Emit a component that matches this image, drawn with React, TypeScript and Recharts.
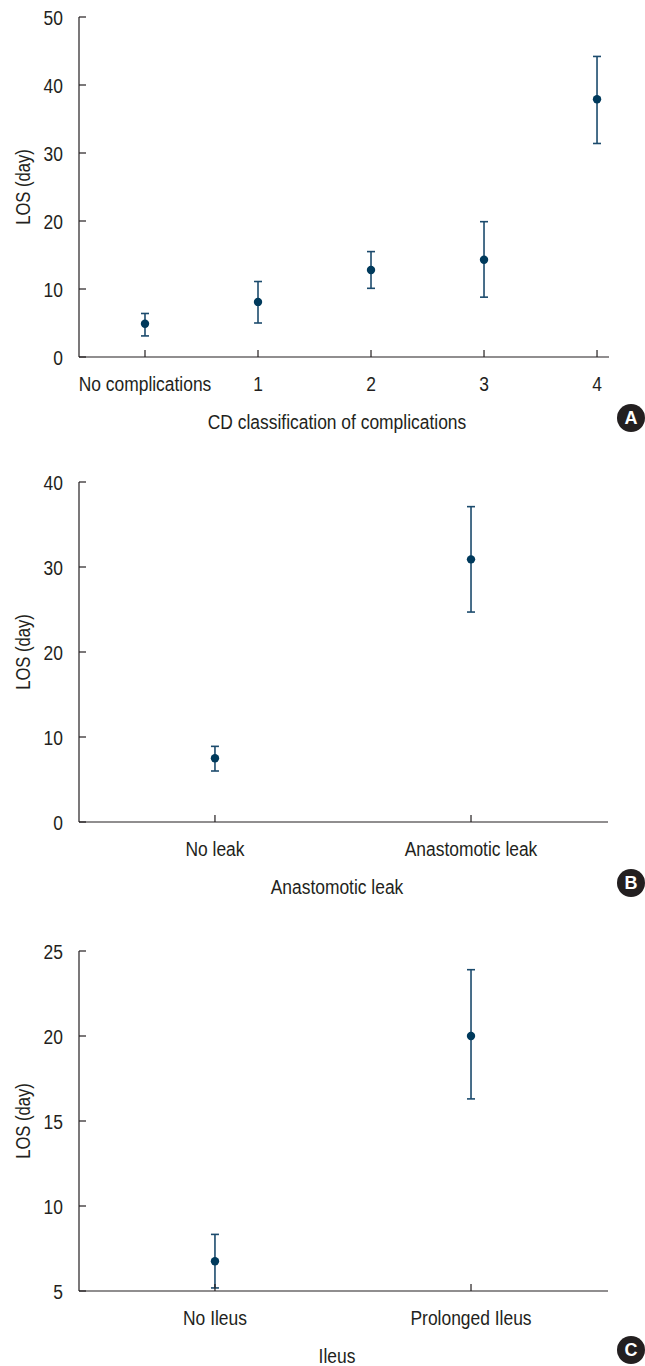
import React from 'react';
import { ScatterChart, Scatter, ErrorBar, XAxis, YAxis } from 'recharts';

// panel A
const cdLabels = ['No complications', '1', '2', '3', '4'];
const cdMean = [4.9, 8.1, 12.8, 14.3, 37.9];
const cdLow = [3.1, 5.0, 10.1, 8.8, 31.4];
const cdHigh = [6.4, 11.1, 15.5, 19.9, 44.2];
const cdTicks = [0, 10, 20, 30, 40, 50];

// panel B
const leakLabels = ['No leak', 'Anastomotic leak'];
const leakMean = [7.5, 30.9];
const leakLow = [6.0, 24.7];
const leakHigh = [8.9, 37.1];
const leakTicks = [0, 10, 20, 30, 40];

// panel C
const ileusLabels = ['No Ileus', 'Prolonged Ileus'];
const ileusMean = [6.75, 20.0];
const ileusLow = [5.18, 16.3];
const ileusHigh = [8.33, 23.9];
const ileusTicks = [5, 10, 15, 20, 25];

const INK = '#231f20';
const DOT = '#003a5c';
const BAR = '#1c4b6d';
const FONT = "'Liberation Sans', Arial, sans-serif";
const SQUEEZE = 0.83; // narrow the face to look like a condensed Helvetica

const toRows = (mean: number[], low: number[], high: number[]) =>
  mean.map((v, i) => ({ x: i, y: v, err: [v - low[i], high[i] - v] }));

const Dot = (props: any) => <circle cx={props.cx} cy={props.cy} r={4.2} fill={DOT} />;

const YTick = (props: any) => (
  <text
    transform={`translate(${props.x},${props.y}) scale(${SQUEEZE},1)`}
    dy="0.36em"
    textAnchor="end"
    fill={INK}
    fontSize={21}
  >
    {props.payload.value}
  </text>
);

type PanelProps = {
  top: number;
  height: number;
  margin: { top: number; right: number; bottom: number; left: number };
  labels: string[];
  rows: { x: number; y: number; err: number[] }[];
  xDomain: [number, number];
  yTicks: number[];
  title: string;
  letter: string;
  badgeTop: number;
};

const Panel = ({ top, height, margin, labels, rows, xDomain, yTicks, title, letter, badgeTop }: PanelProps) => {
  const XTick = (props: any) => (
    <text
      transform={`translate(${props.x},${props.y}) scale(${SQUEEZE},1)`}
      dy="0.71em"
      textAnchor="middle"
      fill={INK}
      fontSize={21}
    >
      {labels[props.payload.value]}
    </text>
  );
  const xTitle = (p: any) => {
    const vb = p.viewBox;
    return (
      <text
        transform={`translate(337,${vb.y + 64}) scale(${SQUEEZE},1)`}
        dy="0.36em"
        textAnchor="middle"
        fill={INK}
        fontSize={21}
      >
        {title}
      </text>
    );
  };
  const yTitle = (p: any) => {
    const vb = p.viewBox;
    const cy = vb.y + vb.height / 2;
    return (
      <text
        transform={`translate(23,${cy}) rotate(-90) scale(${SQUEEZE},1)`}
        dy="0.36em"
        textAnchor="middle"
        fill={INK}
        fontSize={20}
      >
        LOS (day)
      </text>
    );
  };
  return (
    <div style={{ position: 'absolute', left: 0, top, width: 645, height }}>
      <ScatterChart width={645} height={height} margin={margin}>
        <XAxis
          type="number"
          dataKey="x"
          domain={xDomain}
          allowDataOverflow
          ticks={labels.map((_, i) => i)}
          height={2}
          tickSize={-7}
          tickMargin={26}
          axisLine={{ stroke: INK, strokeWidth: 1.2 }}
          tickLine={{ stroke: INK, strokeWidth: 1.2 }}
          tick={<XTick />}
          interval={0}
          label={{ content: xTitle }}
        />
        <YAxis
          type="number"
          dataKey="y"
          domain={[yTicks[0], yTicks[yTicks.length - 1]]}
          allowDataOverflow
          ticks={yTicks}
          width={2}
          tickSize={-7}
          tickMargin={23}
          axisLine={{ stroke: INK, strokeWidth: 1.2 }}
          tickLine={{ stroke: INK, strokeWidth: 1.2 }}
          tick={<YTick />}
          interval={0}
          label={{ content: yTitle }}
        />
        <Scatter data={rows} shape={<Dot />} isAnimationActive={false}>
          <ErrorBar dataKey="err" direction="y" width={4} stroke={BAR} strokeWidth={1.6} isAnimationActive={false} />
        </Scatter>
      </ScatterChart>
      <div
        style={{
          position: 'absolute',
          left: 617,
          top: badgeTop - top - 14,
          width: 28,
          height: 28,
          borderRadius: '50%',
          background: INK,
          color: '#fff',
          fontFamily: FONT,
          fontWeight: 'bold',
          fontSize: 18,
          lineHeight: '28px',
          textAlign: 'center',
        }}
      >
        {letter}
      </div>
    </div>
  );
};

export default function App() {
  return (
    <div style={{ position: 'absolute', left: 0, top: 0, width: 645, height: 1366, background: '#fff', fontFamily: FONT, overflow: 'hidden' }}>
      <Panel
        top={0}
        height={440}
        margin={{ top: 17, right: 36, bottom: 81, left: 77 }}
        labels={cdLabels}
        rows={toRows(cdMean, cdLow, cdHigh)}
        xDomain={[-0.584, 4.106]}
        yTicks={cdTicks}
        title="CD classification of complications"
        letter="A"
        badgeTop={418}
      />
      <Panel
        top={440}
        height={460}
        margin={{ top: 42, right: 37, bottom: 76, left: 77 }}
        labels={leakLabels}
        rows={toRows(leakMean, leakLow, leakHigh)}
        xDomain={[-0.531, 1.535]}
        yTicks={leakTicks}
        title="Anastomotic leak"
        letter="B"
        badgeTop={883}
      />
      <Panel
        top={900}
        height={466}
        margin={{ top: 51, right: 37, bottom: 73, left: 77 }}
        labels={ileusLabels}
        rows={toRows(ileusMean, ileusLow, ileusHigh)}
        xDomain={[-0.531, 1.535]}
        yTicks={ileusTicks}
        title="Ileus"
        letter="C"
        badgeTop={1350}
      />
    </div>
  );
}
